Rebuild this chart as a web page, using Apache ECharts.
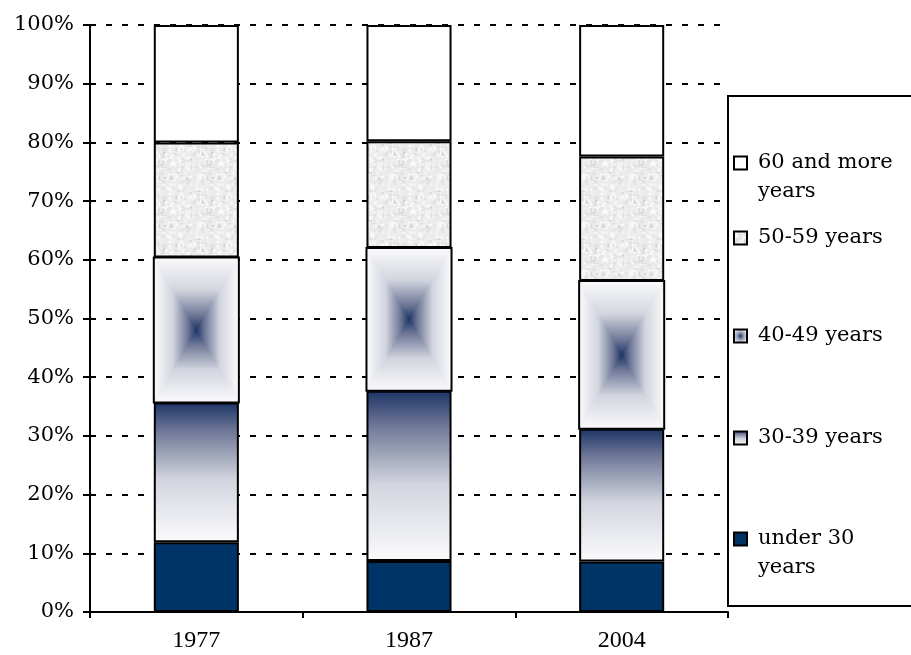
<!DOCTYPE html>
<html>
<head>
<meta charset="utf-8">
<script src="https://cdn.jsdelivr.net/npm/echarts@6/dist/echarts.min.js"></script>
<style>
    html, body { margin: 0; padding: 0; background: #fff; }
    #main { width: 911px; height: 655px; }
</style>
</head>
<body>
<div id="main"></div>
<script>
// shares in percent
var categories = ['1977', '1987', '2004'];
var under30 = [11.9, 8.7, 8.6];
var age30to39 = [23.8, 29.0, 22.6];
var age40to49 = [24.7, 24.3, 25.2];
var age50to59 = [19.6, 18.2, 21.2];
var age60plus = [20.0, 19.8, 22.4];
var yTicks = [0, 10, 20, 30, 40, 50, 60, 70, 80, 90, 100];

var NAVY = '#003366';
var LINE_H = 29;

/**
 * light grey granite texture for the 50-59 band
 */
function makeGranite() {
    var c = document.createElement('canvas');
    c.width = 48;
    c.height = 48;
    var ctx = c.getContext('2d');
    ctx.fillStyle = '#ececec';
    ctx.fillRect(0, 0, 48, 48);
    var seed = 11;
    function next() {
        seed = (seed * 16807) % 2147483647;
        return seed / 2147483647;
    }
    for (var k = 0; k < 260; k++) {
        var s = next();
        ctx.fillStyle = s < 0.5 ? '#f8f8f8' : (s < 0.9 ? '#e2e2e2' : '#d2d2d2');
        ctx.fillRect(next() * 48, next() * 48, 1 + next() * 3, 1 + next() * 3);
    }
    return c;
}

function fade(x, y, x2, y2) {
    return {
        type: 'linear', x: x, y: y, x2: x2, y2: y2,
        colorStops: [
            {offset: 0, color: '#fbfbfd'},
            {offset: 0.45, color: '#d2d5de'},
            {offset: 0.8, color: '#6d7696'},
            {offset: 1, color: '#1c3466'}
        ]
    };
}

// 40-49 box gradient: four triangles meeting at the centre of the segment
function renderBox(params, api) {
    var p0 = api.coord([api.value(0), api.value(1)]);
    var p1 = api.coord([api.value(0), api.value(2)]);
    var w = api.size([1, 0])[0] * 0.4;
    var cx = p0[0], x0 = cx - w / 2, x1 = cx + w / 2;
    var y0 = p1[1], y1 = p0[1], cy = (y0 + y1) / 2;
    function tri(pts, fill) {
        return {type: 'polygon', shape: {points: pts}, style: {fill: fill, stroke: fill, lineWidth: 0.5}};
    }
    return {
        type: 'group',
        children: [
            tri([[x0, y0], [x1, y0], [cx, cy]], fade(0, 0, 0, 1)),
            tri([[x0, y1], [x1, y1], [cx, cy]], fade(0, 1, 0, 0)),
            tri([[x0, y0], [x0, y1], [cx, cy]], fade(0, 0, 1, 0)),
            tri([[x1, y0], [x1, y1], [cx, cy]], fade(1, 0, 0, 0)),
            {type: 'rect', shape: {x: x0, y: y0, width: w, height: y1 - y0},
                style: {fill: null, stroke: '#000', lineWidth: 2}}
        ]
    };
}

var boxData = [];
for (var i = 0; i < categories.length; i++) {
    var base = under30[i] + age30to39[i];
    boxData.push([i, base, base + age40to49[i]]);
}

function barSeries(name, data, color) {
    return {
        name: name,
        type: 'bar',
        stack: 'total',
        barWidth: '40%',
        data: data,
        itemStyle: {color: color, borderColor: '#000', borderWidth: 2}
    };
}

// centre = y of the icon; two-line names get an empty line on top so the icon sits on line one
function legendAt(name, centre, twoLines) {
    return {
        data: [name],
        left: 733,
        top: twoLines ? centre - LINE_H * 1.5 : centre - LINE_H / 2,
        padding: 0,
        icon: 'rect',
        itemWidth: 13,
        itemHeight: 13,
        itemGap: 0,
        selectedMode: false,
        itemStyle: {borderColor: '#000', borderWidth: 2},
        formatter: function (n) {
            if (!twoLines) {
                return n;
            }
            return '\n' + n.replace('under 30 ', 'under 30\n').replace('more ', 'more\n');
        },
        textStyle: {
            fontFamily: 'DejaVu Serif',
            fontSize: 21,
            color: '#000',
            lineHeight: LINE_H,
            padding: [0, 0, 0, 6]
        }
    };
}

var myChart = echarts.init(document.getElementById('main'));
myChart.setOption({
    animation: false,
    backgroundColor: '#fff',
    grid: {left: 90, right: 183, top: 25, bottom: 43},
    xAxis: {
        type: 'category',
        data: categories,
        axisLine: {lineStyle: {color: '#000', width: 2}},
        axisTick: {show: true, length: 6, lineStyle: {color: '#000', width: 2}},
        axisLabel: {fontFamily: 'Liberation Serif', fontSize: 24, color: '#000', margin: 17}
    },
    yAxis: {
        type: 'value',
        min: yTicks[0],
        max: yTicks[yTicks.length - 1],
        interval: yTicks[1] - yTicks[0],
        axisLine: {show: true, lineStyle: {color: '#000', width: 2}},
        axisTick: {show: true, length: 7, lineStyle: {color: '#000', width: 2}},
        axisLabel: {fontFamily: 'DejaVu Serif', fontSize: 21, color: '#000', margin: 16, formatter: '{value}%'},
        splitLine: {show: true, lineStyle: {color: '#000', width: 2, type: [6, 10]}}
    },
    legend: [
        legendAt('60 and more years', 163, true),
        legendAt('50-59 years', 238, false),
        legendAt('40-49 years', 336, false),
        legendAt('30-39 years', 438, false),
        legendAt('under 30 years', 539, true)
    ],
    graphic: [{
        type: 'rect',
        shape: {x: 728, y: 96, width: 200, height: 510},
        style: {fill: null, stroke: '#000', lineWidth: 2}
    }],
    series: [
        barSeries('under 30 years', under30, NAVY),
        barSeries('30-39 years', age30to39, fade(0, 1, 0, 0)),
        barSeries('40-49 years', age40to49, {
            type: 'radial', x: 0.5, y: 0.5, r: 0.5,
            colorStops: [
                {offset: 0, color: '#1c3466'},
                {offset: 0.4, color: '#8a92ac'},
                {offset: 1, color: '#f2f2f5'}
            ]
        }),
        barSeries('50-59 years', age50to59, {image: makeGranite(), repeat: 'repeat'}),
        barSeries('60 and more years', age60plus, '#ffffff'),
        {
            type: 'custom',
            renderItem: renderBox,
            encode: {x: 0, y: [1, 2]},
            data: boxData,
            z: 3
        }
    ]
});
</script>
</body>
</html>
